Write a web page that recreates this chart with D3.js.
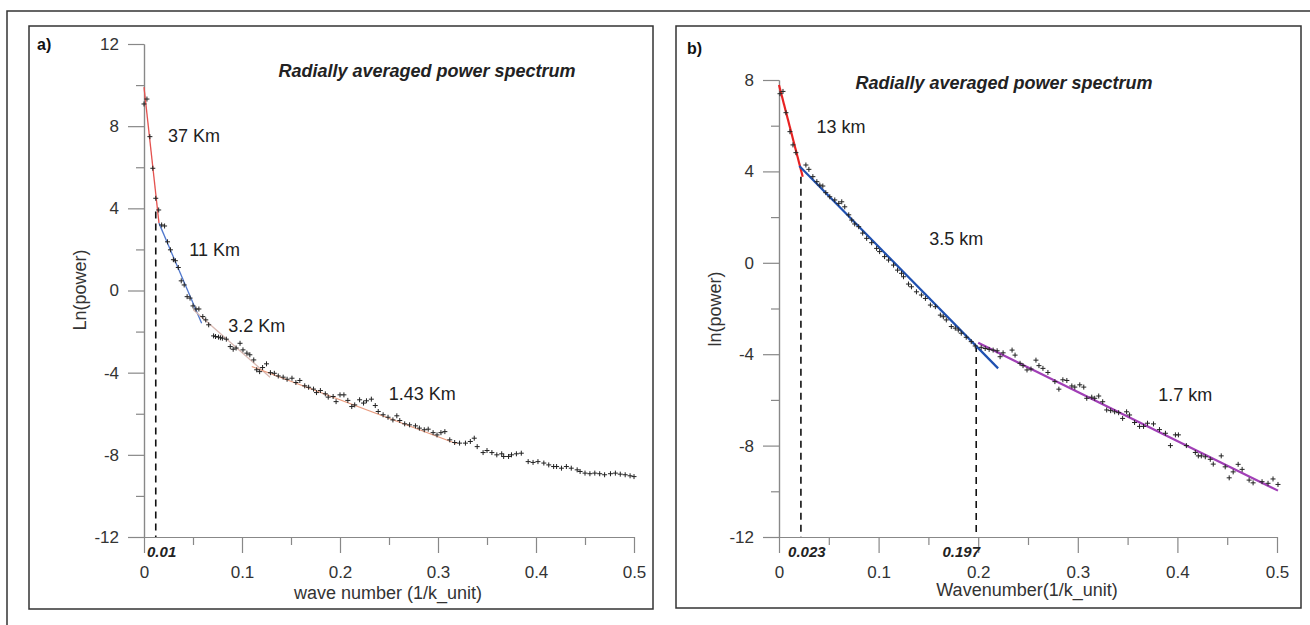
<!DOCTYPE html>
<html>
<head>
<meta charset="utf-8">
<script src="https://cdn.jsdelivr.net/npm/d3@7"></script>
<style>
  body { margin: 0; background: #fff; }
  svg { display: block; font-family: "Liberation Sans", Arial, sans-serif; }
  .tick text { fill: #333; }
</style>
</head>
<body>
<svg id="chart" width="1310" height="625"></svg>
<script>
// panel a : spectrum points (wave number, ln power)
const waveA = [0.000,0.003,0.006,0.009,0.012,0.015,0.018,0.021,0.024,0.027,0.030,0.032,0.035,0.038,0.041,0.044,0.047,0.050,0.053,0.056,
  0.060,0.063,0.066,0.071,0.073,0.076,0.078,0.080,0.084,0.088,0.091,0.094,0.098,0.101,0.105,0.108,0.112,0.115,0.118,0.121,
  0.125,0.129,0.133,0.137,0.142,0.146,0.151,0.155,0.159,0.164,0.168,0.173,0.176,0.180,0.185,0.188,0.193,0.196,0.200,0.204,
  0.208,0.212,0.215,0.220,0.224,0.227,0.232,0.236,0.239,0.244,0.249,0.254,0.258,0.261,0.266,0.271,0.277,0.281,0.286,0.290,
  0.295,0.299,0.303,0.307,0.312,0.317,0.322,0.328,0.333,0.337,0.340,0.346,0.350,0.355,0.360,0.365,0.367,0.372,0.375,0.380,
  0.385,0.392,0.397,0.402,0.408,0.413,0.418,0.421,0.426,0.431,0.436,0.442,0.445,0.450,0.455,0.460,0.465,0.470,0.476,0.481,
  0.486,0.491,0.496,0.500];
const powerA = [9.08,9.32,7.49,5.95,4.49,3.92,3.19,3.14,2.37,1.98,1.50,1.45,1.12,0.47,0.27,-0.30,-0.37,-0.75,-0.90,-0.90,
  -1.27,-1.43,-1.67,-2.21,-2.24,-2.27,-2.30,-2.32,-2.37,-2.73,-2.86,-2.80,-2.57,-2.89,-3.05,-3.13,-3.38,-3.86,-3.95,-3.75,
  -3.57,-4.00,-4.03,-4.16,-4.22,-4.32,-4.27,-4.48,-4.38,-4.64,-4.71,-4.80,-4.97,-4.87,-5.03,-5.19,-5.16,-5.41,-5.08,-5.08,
  -5.35,-5.65,-5.57,-5.32,-5.48,-5.37,-5.29,-5.60,-5.89,-6.05,-6.17,-6.30,-6.10,-6.33,-6.49,-6.54,-6.59,-6.70,-6.78,-6.75,
  -6.92,-7.03,-6.92,-6.87,-7.27,-7.40,-7.43,-7.43,-7.35,-7.19,-7.60,-7.89,-7.79,-7.89,-8.00,-7.95,-8.08,-8.08,-8.00,-7.95,
  -7.92,-8.33,-8.37,-8.33,-8.40,-8.49,-8.57,-8.57,-8.65,-8.57,-8.65,-8.73,-8.81,-8.89,-8.92,-8.89,-8.92,-8.97,-8.92,-8.89,
  -8.94,-8.97,-9.02,-9.06];

// panel b : spectrum points
const waveB = [0.001,0.004,0.007,0.011,0.014,0.017,0.027,0.030,0.034,0.038,0.041,0.044,0.047,0.051,0.056,0.060,0.063,0.066,0.070,0.073,
  0.076,0.080,0.084,0.088,0.093,0.098,0.101,0.106,0.110,0.115,0.119,0.123,0.125,0.130,0.133,0.138,0.143,0.147,0.152,0.157,
  0.162,0.165,0.168,0.173,0.177,0.180,0.183,0.188,0.193,0.197,0.203,0.207,0.211,0.215,0.219,0.222,0.225,0.234,0.237,0.242,
  0.245,0.249,0.253,0.258,0.261,0.265,0.270,0.277,0.281,0.285,0.289,0.294,0.297,0.302,0.306,0.309,0.314,0.317,0.321,0.325,
  0.329,0.333,0.337,0.341,0.345,0.349,0.352,0.357,0.362,0.366,0.370,0.376,0.382,0.388,0.393,0.398,0.401,0.409,0.418,0.421,
  0.424,0.428,0.433,0.436,0.444,0.448,0.452,0.456,0.461,0.465,0.472,0.476,0.485,0.491,0.496,0.501];
const powerB = [7.40,7.50,6.57,5.74,5.16,4.82,4.28,4.09,3.77,3.55,3.40,3.36,3.07,2.89,2.75,2.60,2.67,2.45,2.10,1.87,
  1.70,1.58,1.30,1.07,0.88,0.63,0.49,0.27,0.12,-0.10,-0.32,-0.46,-0.61,-0.93,-1.05,-1.27,-1.41,-1.56,-1.85,-1.92,
  -2.29,-2.36,-2.50,-2.79,-2.86,-2.94,-3.08,-3.26,-3.45,-3.64,-3.70,-3.75,-3.79,-3.82,-3.85,-4.11,-3.94,-3.82,-4.04,-4.40,
  -4.50,-4.69,-4.65,-4.26,-4.50,-4.62,-4.80,-5.20,-5.53,-5.12,-5.15,-5.39,-5.44,-5.34,-5.44,-5.93,-5.88,-5.93,-5.83,-6.08,
  -6.44,-6.47,-6.52,-6.56,-6.81,-6.52,-6.66,-6.99,-7.16,-7.16,-7.02,-7.05,-7.30,-7.46,-8.00,-7.53,-7.53,-8.00,-8.30,-8.45,
  -8.45,-8.49,-8.60,-8.81,-8.45,-8.93,-9.41,-9.15,-8.82,-9.04,-9.51,-9.63,-9.58,-9.65,-9.46,-9.70];

// straight line fits [x1, y1, x2, y2]
const fitsA = [[0, 9.9, 0.0153, 3.28], [0.0153, 3.28, 0.0588, -1.6], [0.0503, -0.94, 0.1286, -4.22], [0.11, -3.7, 0.319, -7.46]];
const fitColorsA = ["#e4524f", "#4f77cc", "#d9b9b2", "#e99b7e"];
const fitsB = [[0, 7.78, 0.0238, 3.77], [0.0204, 4.24, 0.22, -4.62], [0.2, -3.5, 0.501, -9.97]];
const fitColorsB = ["#e82222", "#1f50b0", "#a13fb6"];

// depth labels [text, x, y]
const depthA = [["37 Km", 0.051, 7.52], ["11 Km", 0.072, 1.98], ["3.2 Km", 0.115, -1.72], ["1.43 Km", 0.284, -5.03]];
const depthB = [["13 km", 0.0622, 5.96], ["3.5 km", 0.178, 1.04], ["1.7 km", 0.408, -5.76]];

// break points [x, y top, label, label x]
const cutsA = [[0.012, 3.84, "0.01", 0.018]];
const cutsB = [[0.022, 3.77, "0.023", 0.028], [0.198, -3.6, "0.197", 0.183]];

const xTicks = [0, 0.1, 0.2, 0.3, 0.4, 0.5];
const xMinor = [0.05, 0.15, 0.25, 0.35, 0.45];

const svg = d3.select("#chart");
svg.append("rect").attr("width", 1310).attr("height", 625).attr("fill", "#fff");

// outer border
svg.append("path").attr("d", "M7,625V11H1310").attr("fill", "none").attr("stroke", "#333").attr("stroke-width", 1.5);

function drawPanel(p) {
  let g = svg.append("g");
  g.append("rect").attr("x", p.box[0]).attr("y", p.box[1]).attr("width", p.box[2] - p.box[0]).attr("height", p.box[3] - p.box[1])
    .attr("fill", "none").attr("stroke", "#333").attr("stroke-width", 1.5);

  let x = d3.scaleLinear().domain([0, 0.5]).range(p.xr);
  let y = d3.scaleLinear().domain(p.yd).range(p.yr);

  // axes, major + minor ticks
  let yMajor = d3.range(p.yd[0], p.yd[1] + 1, 4);
  let yMinor = d3.range(p.yd[0] + 2, p.yd[1], 4);
  let ax = g.append("g").attr("transform", "translate(" + p.xr[0] + ",0)");
  ax.call(d3.axisLeft(y).tickValues(yMajor).tickSize(16).tickSizeOuter(0).tickPadding(9).tickFormat(d => String(d)));
  let axm = g.append("g").attr("transform", "translate(" + p.xr[0] + ",0)");
  axm.call(d3.axisLeft(y).tickValues(yMinor).tickSize(8).tickSizeOuter(0).tickFormat(""));
  let bx = g.append("g").attr("transform", "translate(0," + p.yr[0] + ")");
  bx.call(d3.axisBottom(x).tickValues(xTicks).tickSize(16).tickSizeOuter(0).tickPadding(13).tickFormat(d => d === 0 ? "0" : d3.format(".1f")(d)));
  let bxm = g.append("g").attr("transform", "translate(0," + p.yr[0] + ")");
  bxm.call(d3.axisBottom(x).tickValues(xMinor).tickSize(8).tickSizeOuter(0).tickFormat(""));
  g.selectAll(".domain, .tick line").attr("stroke", "#888").attr("stroke-width", 1.2);
  g.selectAll(".tick text").attr("font-size", 17).attr("font-family", "Liberation Sans, Arial, sans-serif");

  // dashed cut-off lines
  p.cuts.forEach(c => {
    g.append("line").attr("x1", x(c[0])).attr("x2", x(c[0])).attr("y1", y(c[1])).attr("y2", y(p.yd[0]))
      .attr("stroke", "#111").attr("stroke-width", 1.6).attr("stroke-dasharray", "7,5");
    g.append("text").attr("x", x(c[3])).attr("y", y(p.yd[0]) + 20).attr("text-anchor", "middle")
      .attr("font-size", 15).attr("font-weight", "bold").attr("font-style", "italic").attr("fill", "#222").text(c[2]);
  });

  // fitted lines
  p.fits.forEach((f, i) => {
    g.append("line").attr("x1", x(f[0])).attr("y1", y(f[1])).attr("x2", x(f[2])).attr("y2", y(f[3]))
      .attr("stroke", p.colors[i]).attr("stroke-width", p.fitWidth);
  });

  // data crosses
  g.selectAll("path.pt").data(p.wave).enter().append("path").attr("class", "pt")
    .attr("transform", (d, i) => "translate(" + x(d) + "," + y(p.power[i]) + ")")
    .attr("d", "M-2.5,0H2.5M0,-2.5V2.5").attr("stroke", "#222").attr("stroke-width", 1);

  // depth labels
  p.depth.forEach(t => {
    g.append("text").attr("x", x(t[1])).attr("y", y(t[2])).attr("dy", "0.35em").attr("text-anchor", "middle")
      .attr("font-size", 18).attr("fill", "#222").text(t[0]);
  });

  // title, panel letter, axis labels
  g.append("text").attr("x", p.title[0]).attr("y", p.title[1]).attr("text-anchor", "middle").attr("dy", "0.35em")
    .attr("font-size", 18).attr("font-weight", "bold").attr("font-style", "italic").attr("fill", "#222")
    .text("Radially averaged power spectrum");
  g.append("text").attr("x", p.letter[0]).attr("y", p.letter[1]).attr("dy", "0.35em")
    .attr("font-size", 16).attr("font-weight", "bold").attr("fill", "#111").text(p.letter[2]);
  g.append("text").attr("x", p.xlab[0]).attr("y", p.xlab[1]).attr("dy", "0.35em").attr("text-anchor", "middle")
    .attr("font-size", 18).attr("fill", "#333").text(p.xlab[2]);
  g.append("text").attr("transform", "translate(" + p.ylab[0] + "," + p.ylab[1] + ") rotate(-90)").attr("dy", "0.35em")
    .attr("text-anchor", "middle").attr("font-size", 18).attr("fill", "#333").text(p.ylab[2]);
}

drawPanel({
  box: [29, 26, 653, 609], xr: [144, 634], yd: [-12, 12], yr: [537, 44],
  wave: waveA, power: powerA, fits: fitsA, colors: fitColorsA, fitWidth: 1.3,
  depth: depthA, cuts: cutsA,
  title: [427, 71], letter: [37, 44, "a)"], xlab: [388, 593, "wave number (1/k_unit)"], ylab: [80, 290, "Ln(power)"]
});
drawPanel({
  box: [676, 26, 1301, 608], xr: [779, 1277], yd: [-12, 8], yr: [537, 80],
  wave: waveB, power: powerB, fits: fitsB, colors: fitColorsB, fitWidth: 2.2,
  depth: depthB, cuts: cutsB,
  title: [1004, 83], letter: [687, 48, "b)"], xlab: [1027, 590, "Wavenumber(1/k_unit)"], ylab: [715, 309, "ln(power)"]
});
</script>
</body>
</html>
